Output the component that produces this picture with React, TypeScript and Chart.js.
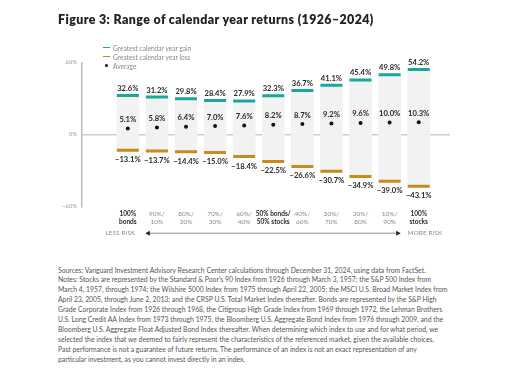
import React, { useEffect, useRef } from "react";
import { Chart, registerables } from "chart.js";
Chart.register(...registerables);

const categories: string[][] = [
  ["100%", "bonds"],
  ["90%/", "10%"],
  ["80%/", "20%"],
  ["70%/", "30%"],
  ["60%/", "40%"],
  ["50% bonds/", "50% stocks"],
  ["40%/", "60%"],
  ["30%/", "70%"],
  ["20%/", "80%"],
  ["10%/", "90%"],
  ["100%", "stocks"],
];
const emphasized: boolean[] = [true, false, false, false, false, true, false, false, false, false, true];
const gains: number[] = [32.6, 31.2, 29.8, 28.4, 27.9, 32.3, 36.7, 41.1, 45.4, 49.8, 54.2];
const losses: number[] = [-13.1, -13.7, -14.4, -15.0, -18.4, -22.5, -26.6, -30.7, -34.9, -39.0, -43.1];
const averages: number[] = [5.1, 5.8, 6.4, 7.0, 7.6, 8.2, 8.7, 9.2, 9.6, 10.0, 10.3];
const yTicks: number[] = [-60, 0, 60];

const title = "Figure 3: Range of calendar year returns (1926–2024)";
const legendItems = ["Greatest calendar year gain", "Greatest calendar year loss", "Average"];
const riskLabels = ["LESS RISK", "MORE RISK"];
const footnoteLines: string[] = [
  "Sources: Vanguard Investment Advisory Research Center calculations through December 31, 2024, using data from FactSet.",
  "Notes: Stocks are represented by the Standard & Poor’s 90 Index from 1926 through March 3, 1957; the S&P 500 Index from",
  "March 4, 1957, through 1974; the Wilshire 5000 Index from 1975 through April 22, 2005; the MSCI U.S. Broad Market Index from",
  "April 23, 2005, through June 2, 2013; and the CRSP U.S. Total Market Index thereafter. Bonds are represented by the S&P High",
  "Grade Corporate Index from 1926 through 1968, the Citigroup High Grade Index from 1969 through 1972, the Lehman Brothers",
  "U.S. Long Credit AA Index from 1973 through 1975, the Bloomberg U.S. Aggregate Bond Index from 1976 through 2009, and the",
  "Bloomberg U.S. Aggregate Float Adjusted Bond Index thereafter. When determining which index to use and for what period, we",
  "selected the index that we deemed to fairly represent the characteristics of the referenced market, given the available choices.",
  "Past performance is not a guarantee of future returns. The performance of an index is not an exact representation of any",
  "particular investment, as you cannot invest directly in an index.",
];

const FONT = "Lato, 'Open Sans', sans-serif";
const TEAL = "#18a89b";
const GOLD = "#c98a1c";
const DARK = "#2a2a2a";
const GRAY = "#8a8a8a";

const fmt = (v: number) => (v < 0 ? "−" : "") + Math.abs(v).toFixed(1) + "%";

const labelPlugin = {
  id: "valueLabels",
  afterDatasetsDraw(chart: any) {
    const { ctx, scales } = chart;
    const xs = scales.x;
    const ys = scales.y;
    ctx.save();
    ctx.font = `bold 7.6px ${FONT}`;
    ctx.fillStyle = DARK;
    ctx.textAlign = "center";
    ctx.textBaseline = "middle";
    for (let i = 0; i < gains.length; i++) {
      const x = xs.getPixelForValue(i);
      ctx.fillText(fmt(gains[i]), x, ys.getPixelForValue(gains[i]) - 7);
      ctx.fillText(fmt(losses[i]), x, ys.getPixelForValue(losses[i]) + 9.5);
      ctx.fillText(fmt(averages[i]), x, ys.getPixelForValue(averages[i]) - 9);
    }
    ctx.restore();
  },
  afterDraw(chart: any) {
    // risk arrow under the category labels
    const { ctx, scales } = chart;
    const xs = scales.x;
    const y = chart.chartArea.bottom + 26.8;
    const x1 = xs.getPixelForValue(0) + 17.5;
    const x2 = xs.getPixelForValue(categories.length - 1) - 18;
    ctx.save();
    ctx.setLineDash([]);
    ctx.globalAlpha = 1;
    ctx.fillStyle = "#b0b0b0";
    ctx.fillRect(x1 + 3, y - 0.75, x2 - x1 - 6, 1.5);
    ctx.fillStyle = "#222";
    ctx.beginPath();
    ctx.moveTo(x1, y);
    ctx.lineTo(x1 + 4.5, y - 2.5);
    ctx.lineTo(x1 + 4.5, y + 2.5);
    ctx.closePath();
    ctx.fill();
    ctx.beginPath();
    ctx.moveTo(x2, y);
    ctx.lineTo(x2 - 4.5, y - 2.5);
    ctx.lineTo(x2 - 4.5, y + 2.5);
    ctx.closePath();
    ctx.fill();
    ctx.font = `6.2px ${FONT}`;
    ctx.fillStyle = GRAY;
    ctx.textBaseline = "middle";
    (ctx as any).letterSpacing = "0.2px";
    ctx.textAlign = "right";
    ctx.fillText(riskLabels[0], x1 - 10, y);
    ctx.textAlign = "left";
    ctx.fillText(riskLabels[1], x2 + 7, y);
    ctx.restore();
  },
};

function RangeChart() {
  const ref = useRef<HTMLCanvasElement>(null);
  useEffect(() => {
    if (!ref.current) return;
    const chart = new Chart(ref.current, {
      type: "bar",
      data: {
        datasets: [
          {
            type: "scatter",
            data: averages.map((v, i) => ({ x: i, y: v })),
            pointStyle: "circle",
            radius: 2,
            backgroundColor: "#111",
            borderWidth: 0,
            order: 1,
          } as any,
          {
            type: "scatter",
            data: gains.map((v, i) => ({ x: i, y: v })),
            pointStyle: "line",
            radius: 11,
            borderWidth: 3,
            borderColor: TEAL,
            order: 2,
          } as any,
          {
            type: "scatter",
            data: losses.map((v, i) => ({ x: i, y: v })),
            pointStyle: "line",
            radius: 11,
            borderWidth: 3,
            borderColor: GOLD,
            order: 2,
          } as any,
          {
            type: "bar",
            data: gains.map((g, i) => ({ x: i, y: [losses[i], g] })),
            backgroundColor: "#f2f2f2",
            barThickness: 22,
            order: 3,
          } as any,
        ],
      },
      options: {
        animation: false,
        responsive: false,
        maintainAspectRatio: false,
        events: [],
        layout: { padding: { left: 0, right: 76, top: 62.5, bottom: 0 } },
        plugins: { legend: { display: false }, tooltip: { enabled: false } },
        scales: {
          x: {
            type: "linear",
            min: -1,
            max: 10.5,
            afterBuildTicks: (axis: any) => {
              axis.ticks = categories.map((_, i) => ({ value: i }));
            },
            afterFit: (axis: any) => {
              axis.height = 43.5;
            },
            grid: { display: false },
            border: { display: false },
            ticks: {
              autoSkip: false,
              maxRotation: 0,
              padding: -4,
              callback: (v: any) => categories[v as number],
              font: (c: any) => ({
                family: FONT,
                size: 6.5,
                weight: emphasized[c.index] ? "bold" : "normal",
                lineHeight: 1.2,
              }),
              color: (c: any) => (emphasized[c.index] ? DARK : GRAY),
            },
          },
          y: {
            min: -60,
            max: 60,
            afterBuildTicks: (axis: any) => {
              axis.ticks = yTicks.map((v) => ({ value: v }));
            },
            afterFit: (axis: any) => {
              axis.width = 82;
            },
            grid: {
              drawTicks: false,
              color: (c: any) => (c.tick && c.tick.value === 0 ? "#cdcdcd" : "transparent"),
              lineWidth: 1.5,
            },
            border: { display: true, color: "#bcbcbc", width: 1.5 },
            ticks: {
              padding: 5,
              color: "#9a9a9a",
              font: { family: FONT, size: 6 },
              callback: (v: any) => (v < 0 ? "−" : "") + Math.abs(v) + "%",
            },
          },
        },
      },
      plugins: [labelPlugin],
    });
    return () => chart.destroy();
  }, []);
  return <canvas ref={ref} width={526} height={250} style={{ position: "absolute", left: 0, top: 0, width: 526, height: 250 }} />;
}

export default function App() {
  return (
    <div style={{ position: "fixed", left: 0, top: 0, width: 526, height: 382, background: "#fff", overflow: "hidden", fontFamily: FONT }}>
      <RangeChart />
      <div style={{ position: "absolute", left: 58, top: 11.5, fontSize: 12.4, letterSpacing: 0.4, fontWeight: 800, color: "#222", whiteSpace: "nowrap" }}>{title}</div>
      {legendItems.map((t, i) => (
        <div key={t} style={{ position: "absolute", left: 103, top: 43.5 + i * 9, height: 8, display: "flex", alignItems: "center", fontSize: 6.6, color: GRAY, whiteSpace: "nowrap" }}>
          {i < 2 ? (
            <span style={{ display: "inline-block", width: 7, height: 1.6, background: i === 0 ? TEAL : GOLD, marginRight: 3 }} />
          ) : (
            <span style={{ display: "inline-block", width: 3, height: 3, borderRadius: 2, background: "#111", margin: "0 5px 0 2px" }} />
          )}
          <span>{t}</span>
        </div>
      ))}
      {footnoteLines.map((t, i) => (
        <div key={i} style={{ position: "absolute", left: 58, top: 265.5 + i * 9.9, fontSize: 6.83, lineHeight: "9px", color: "#555", whiteSpace: "nowrap" }}>{t}</div>
      ))}
    </div>
  );
}
